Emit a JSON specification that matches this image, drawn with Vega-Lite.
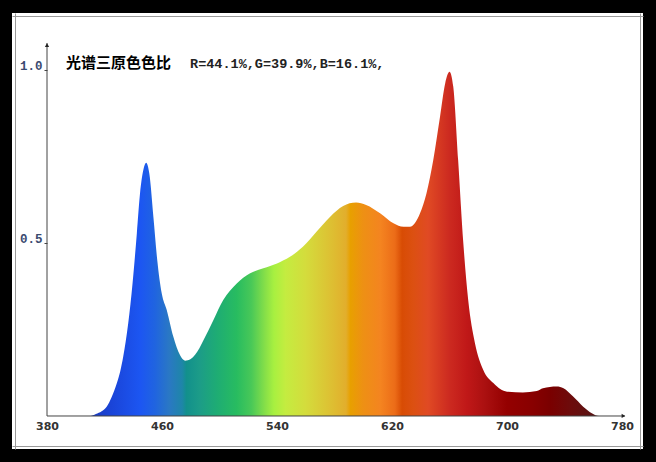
{
  "$schema": "https://vega.github.io/schema/vega-lite/v6.json",
  "width": 631,
  "height": 436,
  "autosize": {"type": "none"},
  "padding": {"left": 12, "top": 13, "right": 13, "bottom": 13},
  "background": "black",
  "view": {"fill": "white", "stroke": null},
  "resolve": {"axis": {"x": "independent", "y": "independent"}},
  "layer": [
    {
      "data": {"values": [
        {"wl": 380, "v": 0}, {"wl": 410, "v": 0}, {"wl": 414, "v": 0.006}, {"wl": 418, "v": 0.014},
        {"wl": 421.5, "v": 0.027}, {"wl": 425, "v": 0.055}, {"wl": 428.5, "v": 0.094}, {"wl": 431, "v": 0.13},
        {"wl": 433, "v": 0.171}, {"wl": 436.5, "v": 0.268}, {"wl": 439.5, "v": 0.383}, {"wl": 442.5, "v": 0.528},
        {"wl": 444.7, "v": 0.643}, {"wl": 447, "v": 0.711}, {"wl": 449, "v": 0.732}, {"wl": 451.2, "v": 0.7},
        {"wl": 454, "v": 0.576}, {"wl": 456.7, "v": 0.45}, {"wl": 459.8, "v": 0.355}, {"wl": 463.3, "v": 0.306},
        {"wl": 467.9, "v": 0.229}, {"wl": 472.5, "v": 0.176}, {"wl": 476, "v": 0.16}, {"wl": 480, "v": 0.165},
        {"wl": 486, "v": 0.196}, {"wl": 489, "v": 0.22}, {"wl": 495.7, "v": 0.277}, {"wl": 502.6, "v": 0.335},
        {"wl": 512, "v": 0.383}, {"wl": 521, "v": 0.412}, {"wl": 530.5, "v": 0.427}, {"wl": 540, "v": 0.441},
        {"wl": 549, "v": 0.46}, {"wl": 558, "v": 0.489}, {"wl": 567.6, "v": 0.533}, {"wl": 577, "v": 0.576},
        {"wl": 586, "v": 0.607}, {"wl": 595, "v": 0.617}, {"wl": 602, "v": 0.61}, {"wl": 611.7, "v": 0.586},
        {"wl": 621, "v": 0.557}, {"wl": 628, "v": 0.547}, {"wl": 632.5, "v": 0.547}, {"wl": 639.5, "v": 0.586},
        {"wl": 644, "v": 0.644}, {"wl": 648.7, "v": 0.74}, {"wl": 653.4, "v": 0.865}, {"wl": 657, "v": 0.962},
        {"wl": 660, "v": 0.995}, {"wl": 662.6, "v": 0.952}, {"wl": 666, "v": 0.74}, {"wl": 669.6, "v": 0.5},
        {"wl": 673, "v": 0.335}, {"wl": 677.7, "v": 0.21}, {"wl": 683.5, "v": 0.133}, {"wl": 690.5, "v": 0.095},
        {"wl": 700, "v": 0.07}, {"wl": 711, "v": 0.068}, {"wl": 720.7, "v": 0.072}, {"wl": 725, "v": 0.08},
        {"wl": 734.6, "v": 0.085}, {"wl": 739.3, "v": 0.08}, {"wl": 746, "v": 0.056}, {"wl": 753, "v": 0.027},
        {"wl": 759, "v": 0.008}, {"wl": 764, "v": 0}, {"wl": 780, "v": 0}
      ]},
      "mark": {
        "type": "area",
        "interpolate": "monotone",
        "color": {
          "gradient": "linear", "x1": 0, "x2": 1, "y1": 0, "y2": 0,
          "stops": [
            {"offset": 0, "color": "#1a3cc0"},
            {"offset": 0.08, "color": "#1a3cc0"},
            {"offset": 0.1125, "color": "#1a44d8"},
            {"offset": 0.1625, "color": "#1c56f2"},
            {"offset": 0.1875, "color": "#2064e0"},
            {"offset": 0.2125, "color": "#2a78c4"},
            {"offset": 0.235, "color": "#1e86a8"},
            {"offset": 0.2425, "color": "#12908c"},
            {"offset": 0.265, "color": "#1c9c88"},
            {"offset": 0.295, "color": "#1eac74"},
            {"offset": 0.33, "color": "#28bc60"},
            {"offset": 0.355, "color": "#48c858"},
            {"offset": 0.38, "color": "#88e048"},
            {"offset": 0.395, "color": "#a8f040"},
            {"offset": 0.415, "color": "#c4ec40"},
            {"offset": 0.45, "color": "#d4dc3c"},
            {"offset": 0.4875, "color": "#dcc434"},
            {"offset": 0.52, "color": "#e2ae2c"},
            {"offset": 0.5275, "color": "#e8a000"},
            {"offset": 0.55, "color": "#ee9014"},
            {"offset": 0.58, "color": "#f48420"},
            {"offset": 0.605, "color": "#ec6c18"},
            {"offset": 0.6175, "color": "#d84c04"},
            {"offset": 0.6375, "color": "#dc5012"},
            {"offset": 0.6625, "color": "#e04a24"},
            {"offset": 0.7, "color": "#cc2a20"},
            {"offset": 0.73, "color": "#c01818"},
            {"offset": 0.7625, "color": "#aa1010"},
            {"offset": 0.8, "color": "#940000"},
            {"offset": 0.845, "color": "#880000"},
            {"offset": 0.875, "color": "#7a0000"},
            {"offset": 0.9125, "color": "#6c0c0c"},
            {"offset": 0.95, "color": "#5a1414"},
            {"offset": 1, "color": "#501818"}
          ]
        }
      },
      "encoding": {
        "x": {
          "field": "wl", "type": "quantitative",
          "scale": {"domain": [355.65, 794.6], "nice": false, "zero": false},
          "axis": {
            "orient": "bottom", "offset": -33, "title": null, "domain": false, "ticks": false, "grid": false,
            "values": [380, 460, 540, 620, 700, 780], "format": "d",
            "labelFont": "DejaVu Sans", "labelFontWeight": "bold", "labelFontSize": 11, "labelColor": "#333333",
            "labelPadding": 4, "labelFlush": false
          }
        },
        "y": {
          "field": "v", "type": "quantitative",
          "scale": {"domain": [-0.0954, 1.1647], "nice": false, "zero": false},
          "axis": {
            "orient": "left", "offset": -35, "title": null, "domain": false, "grid": false,
            "values": [0.5, 1.0], "format": ".1f",
            "ticks": true, "tickSize": 3, "tickColor": "#444444",
            "labelFont": "Liberation Mono", "labelFontWeight": "bold", "labelFontSize": 12.5, "labelColor": "#3a4a70",
            "labelPadding": 2, "labelBaseline": "alphabetic", "labelFlush": false
          }
        },
        "y2": {"datum": 0}
      }
    },
    {
      "data": {"values": [{}]},
      "mark": {"type": "rule", "color": "#444444", "strokeWidth": 1},
      "encoding": {
        "x": {"datum": 380, "type": "quantitative",
          "axis": {"orient": "top", "offset": -3, "title": null, "labels": false, "ticks": false, "grid": false, "domainColor": "#9a9a9a", "domainWidth": 1}},
        "y": {"datum": 0, "type": "quantitative",
          "axis": {"orient": "right", "offset": -3, "title": null, "labels": false, "ticks": false, "grid": false, "domainColor": "#9a9a9a", "domainWidth": 1}},
        "y2": {"datum": 1.078}
      }
    },
    {
      "data": {"values": [{}]},
      "mark": {"type": "rule", "color": "#444444", "strokeWidth": 1},
      "encoding": {
        "y": {"datum": 0, "type": "quantitative",
          "axis": {"orient": "left", "offset": -3, "title": null, "labels": false, "ticks": false, "grid": false, "domainColor": "#9a9a9a", "domainWidth": 1}},
        "x": {"datum": 380, "type": "quantitative",
          "axis": {"orient": "bottom", "offset": -3, "title": null, "labels": false, "ticks": false, "grid": false, "domainColor": "#9a9a9a", "domainWidth": 1}},
        "x2": {"datum": 782}
      }
    },
    {
      "data": {"values": [{}]},
      "mark": {"type": "point", "shape": "triangle-up", "filled": true, "color": "#222222", "size": 18, "opacity": 1},
      "encoding": {
        "x": {"datum": 380, "type": "quantitative", "axis": null},
        "y": {"datum": 1.072, "type": "quantitative", "axis": null}
      }
    },
    {
      "data": {"values": [{}]},
      "mark": {"type": "point", "shape": "triangle-right", "filled": true, "color": "#222222", "size": 18, "opacity": 1},
      "encoding": {
        "x": {"datum": 781, "type": "quantitative", "axis": null},
        "y": {"datum": 0, "type": "quantitative", "axis": null}
      }
    },
    {
      "data": {"values": [{}]},
      "mark": {"type": "text", "text": "光谱三原色色比", "font": "Noto Sans CJK SC", "fontWeight": "bold", "fontSize": 15, "align": "left", "baseline": "middle", "color": "#000000"},
      "encoding": {
        "x": {"datum": 393.2, "type": "quantitative", "axis": null},
        "y": {"datum": 1.02, "type": "quantitative", "axis": null}
      }
    },
    {
      "data": {"values": [{}]},
      "mark": {"type": "text", "text": "R=44.1%,G=39.9%,B=16.1%,", "font": "Liberation Mono", "fontWeight": "bold", "fontSize": 13.5, "align": "left", "baseline": "middle", "color": "#222222"},
      "encoding": {
        "x": {"datum": 479.5, "type": "quantitative", "axis": null},
        "y": {"datum": 1.017, "type": "quantitative", "axis": null}
      }
    }
  ]
}
